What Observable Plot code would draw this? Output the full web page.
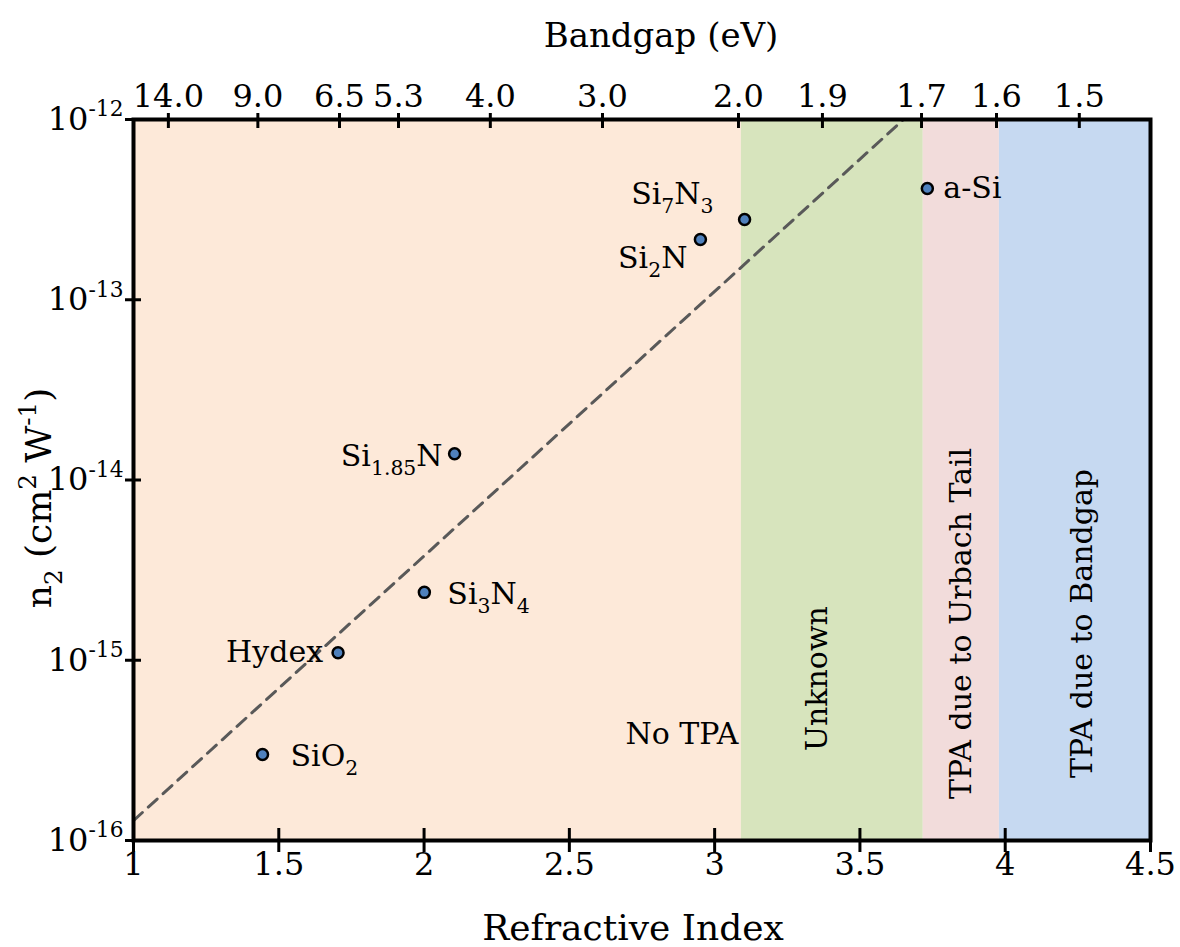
<!DOCTYPE html>
<html><head><meta charset="utf-8">
<script src="https://cdn.jsdelivr.net/npm/d3@7"></script>
<script src="https://cdn.jsdelivr.net/npm/@observablehq/plot@0.6"></script>
<style>html,body{margin:0;padding:0;background:#fff;}</style>
</head><body><div id="chart"></div>
<script>
// ---- data ----
const materials = ["SiO_{2}", "Hydex", "Si_{3}N_{4}", "Si_{1.85}N", "Si_{2}N", "Si_{7}N_{3}", "a-Si"];
const refractiveIndex = [1.444, 1.704, 2.001, 2.105, 2.951, 3.103, 3.732];
const n2Values = [3.0e-16, 1.1e-15, 2.38e-15, 1.4e-14, 2.16e-13, 2.79e-13, 4.14e-13];

const regionNames = ["No TPA", "Unknown", "TPA due to Urbach Tail", "TPA due to Bandgap"];
const regionStart = [1, 3.092, 3.718, 3.980];
const regionEnd = [3.092, 3.718, 3.980, 4.5];

const trendIndex = [1, 3.65];
const trendN2 = [1.29e-16, 1e-12];

const xTicks = [1, 1.5, 2, 2.5, 3, 3.5, 4, 4.5];
const yTicks = [1e-16, 1e-15, 1e-14, 1e-13, 1e-12];
const bandgapLabels = ["14.0", "9.0", "6.5", "5.3", "4.0", "3.0", "2.0", "1.9", "1.7", "1.6", "1.5"];
const bandgapAtIndex = [1.120, 1.428, 1.709, 1.912, 2.228, 2.614, 3.082, 3.371, 3.712, 3.970, 4.255];

// ---- styles / layout ----
const regionColors = ["#FDE9D9", "#D7E4BD", "#F2DCDB", "#C6D9F1"];
const regionLabelAt = [
  {x: 3.082, y: 3.9e-16, rotate: 0, anchor: "end"},
  {x: 3.355, y: 7.9e-16, rotate: -90, anchor: "middle"},
  {x: 3.850, y: 1.6e-15, rotate: -90, anchor: "middle"},
  {x: 4.265, y: 1.6e-15, rotate: -90, anchor: "middle"}
];
const labelOffsets = [
  {dx: 28, dy: 2, anchor: "start"},
  {dx: -15, dy: 0, anchor: "end"},
  {dx: 23, dy: 2, anchor: "start"},
  {dx: -12, dy: 3, anchor: "end"},
  {dx: -13, dy: 19, anchor: "end"},
  {dx: -31, dy: -25, anchor: "end"},
  {dx: 16, dy: 0, anchor: "start"}
];
const FONT = "DejaVu Serif";

const points = materials.map((m, i) => ({name: m, n: refractiveIndex[i], n2: n2Values[i]}));
const regions = regionNames.map((r, i) => ({name: r, start: regionStart[i], end: regionEnd[i]}));
const trend = trendIndex.map((n, i) => ({n, n2: trendN2[i]}));
const bandgapMap = new Map(bandgapAtIndex.map((p, i) => [p, bandgapLabels[i]]));

const marks = [];
regions.forEach((r, i) => marks.push(Plot.rect([r], {x1: "start", x2: "end", fill: regionColors[i]})));
regions.forEach((r, i) => {
  const L = regionLabelAt[i];
  marks.push(Plot.text([r], {x: () => L.x, y: () => L.y, text: "name", rotate: L.rotate,
    textAnchor: L.anchor, fontSize: 30, fill: "black"}));
});
marks.push(Plot.line(trend, {x: "n", y: "n2", stroke: "#595959", strokeWidth: 3, strokeDasharray: "12,8"}));
marks.push(Plot.dot(points, {x: "n", y: "n2", r: 5.5, fill: "#4F81BD", stroke: "black", strokeWidth: 2.5}));
points.forEach((p, i) => {
  const o = labelOffsets[i];
  marks.push(Plot.text([p], {x: "n", y: "n2", text: "name", dx: o.dx, dy: o.dy, textAnchor: o.anchor, fontSize: 30, fill: "black"}));
});
marks.push(Plot.frame({stroke: "black", strokeWidth: 4}));
// bottom axis (crossing ticks)
marks.push(Plot.axisX(xTicks, {anchor: "bottom", label: null, tickSize: 12, strokeWidth: 3, tickPadding: 0, fontSize: 32, tickFormat: d => String(d)}));
marks.push(Plot.axisX(xTicks, {anchor: "bottom", label: null, tickSize: 12, strokeWidth: 3, dy: -12, tickFormat: () => ""}));
// top axis (bandgap)
marks.push(Plot.axisX(bandgapAtIndex, {anchor: "top", label: null, tickSize: 7, strokeWidth: 3, tickPadding: 6, fontSize: 32, tickFormat: d => bandgapMap.get(d)}));
marks.push(Plot.axisX(bandgapAtIndex, {anchor: "top", label: null, tickSize: 8, strokeWidth: 3, dy: 8, tickFormat: () => ""}));
// left axis
marks.push(Plot.axisY(yTicks, {anchor: "left", label: null, tickSize: 8, strokeWidth: 3, tickPadding: 2, fontSize: 32,
  tickFormat: d => "10^{" + Math.round(Math.log10(d)) + "}"}));
marks.push(Plot.axisY(yTicks, {anchor: "left", label: null, tickSize: 8, strokeWidth: 3, dx: 8, tickFormat: () => ""}));
// titles
marks.push(Plot.text(["Bandgap (eV)"], {frameAnchor: "top", text: d => d, dx: 19, dy: -97, fontSize: 34, fill: "black"}));
marks.push(Plot.text(["Refractive Index"], {frameAnchor: "bottom", text: d => d, dx: -9, dy: 99, fontSize: 36, fill: "black"}));
marks.push(Plot.text(["n_{2} (cm^{2} W^{-1})"], {frameAnchor: "left", textAnchor: "middle", text: d => d, rotate: -90, dx: -94, dy: 18, fontSize: 36, fill: "black"}));

const chart = Plot.plot({
  width: 1180, height: 947,
  marginLeft: 133, marginRight: 30, marginTop: 119, marginBottom: 107,
  style: {fontFamily: FONT, background: "white", color: "black", overflow: "visible"},
  x: {domain: [1, 4.5], label: null},
  y: {type: "log", domain: [1e-16, 1e-12], label: null},
  marks
});
document.getElementById("chart").appendChild(chart);

// rich text: _{sub} and ^{sup}
function richify(el) {
  const s = el.textContent;
  if (!/[_^]\{/.test(s)) return;
  const parts = [];
  const re = /([_^])\{([^}]*)\}/g;
  let last = 0, m;
  while ((m = re.exec(s))) {
    if (m.index > last) parts.push({t: s.slice(last, m.index), k: ""});
    parts.push({t: m[2], k: m[1]});
    last = re.lastIndex;
  }
  if (last < s.length) parts.push({t: s.slice(last), k: ""});
  const fs = parseFloat(getComputedStyle(el).fontSize) || 30;
  while (el.firstChild) el.removeChild(el.firstChild);
  let cur = 0;
  for (const p of parts) {
    const ts = document.createElementNS("http://www.w3.org/2000/svg", "tspan");
    const target = p.k === "_" ? 0.3 * fs : p.k === "^" ? -0.42 * fs : 0;
    ts.setAttribute("dy", target - cur);
    cur = target;
    if (p.k) ts.setAttribute("font-size", 0.68 * fs);
    ts.textContent = p.t;
    el.appendChild(ts);
  }
}
chart.querySelectorAll("text").forEach(richify);
</script>
</body></html>
